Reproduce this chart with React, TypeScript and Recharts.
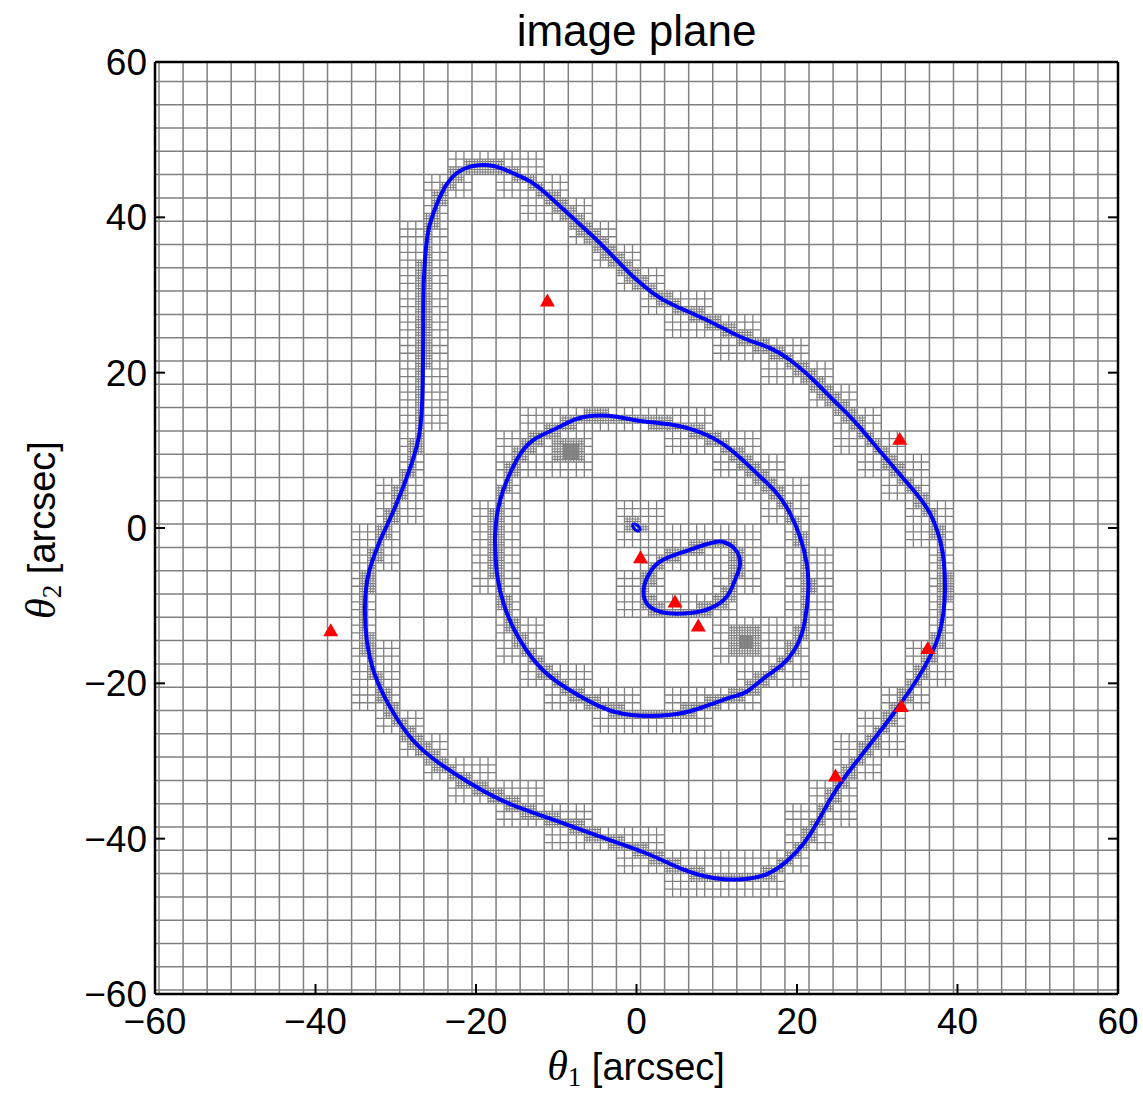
import { ComposedChart, Line, Scatter, XAxis, YAxis } from 'recharts';

const WIDTH = 1143;
const HEIGHT = 1094;
const FONT = '"Liberation Sans", Arial, sans-serif';
const SERIF = '"Liberation Serif", serif';

const axisTicks = [-60, -40, -20, 0, 20, 40, 60];

// critical curves in the image plane, [theta1, theta2] in arcsec
const outerCurve: [number, number][] = [
  [-31.94, -1.55], [-29.88, 3.18], [-28.01, 8.33], [-26.98, 12.62], [-26.64, 18.63],
  [-26.57, 27.2], [-26.48, 32.35], [-26.07, 37.5], [-25.32, 40.52], [-24.07, 43.52],
  [-22.41, 45.67], [-20.34, 46.61], [-17.84, 46.61], [-15.35, 45.67], [-12.86, 44.38],
  [-10.37, 42.23], [-7.88, 39.87], [-5.38, 37.5], [-2.89, 34.93], [-0.4, 32.35],
  [2.09, 30.22], [4.59, 28.71], [8.75, 26.78], [12.9, 24.63], [16.22, 23.34],
  [19.13, 21.63], [22.03, 19.06], [24.52, 16.48], [27.02, 13.9], [29.51, 10.91],
  [32.0, 7.89], [34.49, 4.89], [36.57, 1.89], [37.82, -1.55], [38.32, -4.54],
  [38.44, -7.98], [38.23, -10.98], [37.61, -14.0], [36.57, -16.57], [34.92, -19.57],
  [31.73, -24.3], [28.86, -28.16], [26.0, -32.02], [24.1, -35.02], [21.71, -39.31],
  [19.33, -42.32], [16.46, -44.46], [13.12, -45.23], [9.78, -45.1], [5.97, -44.03],
  [1.21, -41.88], [-4.52, -39.75], [-10.24, -37.6], [-15.96, -35.45], [-20.74, -32.87],
  [-24.55, -30.3], [-27.89, -27.3], [-30.74, -23.0], [-32.66, -18.71], [-33.61, -14.42],
  [-33.84, -10.13], [-33.37, -5.83], [-31.94, -1.55],
];

const middleCurve: [number, number][] = [
  [-17.63, -1.55], [-17.42, 1.45], [-16.6, 4.89], [-14.93, 8.76], [-12.86, 11.33],
  [-9.94, 12.84], [-7.88, 13.9], [-5.38, 14.46], [-2.47, 14.33], [0.44, 13.78],
  [4.59, 13.26], [8.75, 11.97], [12.06, 9.82], [14.98, 7.04], [17.47, 4.47],
  [19.13, 1.89], [20.37, -1.12], [21.21, -4.54], [21.41, -7.98], [21.0, -11.85],
  [20.12, -14.85], [18.33, -17.42], [15.86, -19.35], [13.73, -21.08], [11.7, -21.82],
  [7.88, -23.21], [4.06, -24.08], [-0.7, -24.08], [-4.52, -23.0], [-8.34, -20.86],
  [-11.68, -18.28], [-14.53, -14.42], [-16.44, -10.13], [-17.4, -5.83], [-17.63, -1.55],
];

const innerCurve: [number, number][] = [
  [10.74, -1.76], [12.17, -2.61], [12.9, -4.54], [12.27, -6.7], [11.24, -8.85],
  [9.16, -10.34], [6.67, -10.94], [3.76, -10.94], [1.56, -10.04], [0.87, -8.11],
  [1.56, -5.92], [3.05, -4.25], [5.67, -3.15], [8.41, -2.19], [9.99, -1.76], [10.74, -1.76],
];

// tiny loop at the centre
const centralCurve: [number, number][] = [
  [0.42, -0.37], [0.4, 0.02], [-0.03, 0.45], [-0.42, 0.47], [-0.4, 0.08], [0.03, -0.35], [0.42, -0.37],
];

// lensed image positions
const imageX = [-11.1, 32.8, 0.5, 4.8, 7.7, 36.3, 33.0, 24.8, -38.1];
const imageY = [29.35, 11.55, -3.7, -9.4, -12.5, -15.4, -22.85, -31.8, -13.1];

// spots where the mesh is refined very deeply
const denseSpots: [number, number][] = [[-8.3, 9.9], [13.65, -14.7]];

// base mesh: 3" cells, lines at 0.5 + 3k
const meshOrigin = 0.5;
const meshStep = 3;

type MeshPoint = { x: number; y: number | null };

const toPoints = (c: [number, number][]) => c.map(([x, y]) => ({ x, y }));
const images = imageX.map((x, i) => ({ x, y: imageY[i] }));

// points along the curves, only used to decide where the mesh is split
const trace = (curve: [number, number][], step = 0.1) => {
  const out: [number, number][] = [];
  for (let i = 0; i < curve.length - 1; i++) {
    const [x0, y0] = curve[i];
    const [x1, y1] = curve[i + 1];
    const n = Math.max(1, Math.ceil(Math.hypot(x1 - x0, y1 - y0) / step));
    for (let k = 0; k <= n; k++) out.push([x0 + ((x1 - x0) * k) / n, y0 + ((y1 - y0) * k) / n]);
  }
  return out;
};

const cellsNear = (pts: [number, number][], size: number, margin: number, keys = new Set<string>()) => {
  for (const [x, y] of pts) {
    const i0 = Math.floor((x - margin - meshOrigin) / size);
    const i1 = Math.floor((x + margin - meshOrigin) / size);
    const j0 = Math.floor((y - margin - meshOrigin) / size);
    const j1 = Math.floor((y + margin - meshOrigin) / size);
    for (let i = i0; i <= i1; i++) for (let j = j0; j <= j1; j++) keys.add(`${i},${j}`);
  }
  return keys;
};

const splitLines = (keys: Set<string>, size: number) => {
  const pts: MeshPoint[] = [];
  keys.forEach((key) => {
    const [i, j] = key.split(',').map(Number);
    const x0 = meshOrigin + i * size;
    const y0 = meshOrigin + j * size;
    for (const f of [1 / 3, 2 / 3]) {
      const xs = x0 + f * size;
      const ys = y0 + f * size;
      pts.push({ x: xs, y: y0 }, { x: xs, y: y0 + size }, { x: xs, y: null });
      pts.push({ x: x0, y: ys }, { x: x0 + size, y: ys }, { x: x0 + size, y: null });
    }
  });
  return pts;
};

const baseGrid: MeshPoint[] = [];
for (let k = -20; k <= 19; k++) {
  const v = meshOrigin + k * meshStep;
  baseGrid.push({ x: v, y: -60 }, { x: v, y: 60 }, { x: v, y: null });
  baseGrid.push({ x: -60, y: v }, { x: 60, y: v }, { x: 60, y: null });
}

const curveTrace = [outerCurve, middleCurve, innerCurve, centralCurve].flatMap((c) => trace(c));

const level1 = cellsNear(denseSpots, meshStep, 2.2, cellsNear(curveTrace, meshStep, 0.45));
const level2 = cellsNear(denseSpots, 1, 1.3, cellsNear(curveTrace, 1, 0.12));
const level3 = cellsNear(denseSpots, 1 / 3, 0.8);

const mesh1 = splitLines(level1, meshStep);
const mesh2 = splitLines(level2, 1);
const mesh3 = splitLines(level3, 1 / 3);

const fmt = (v: number) => (v < 0 ? `\u2212${-v}` : `${v}`);
const frameLine = { stroke: '#000', strokeWidth: 2.5 };
const tickMark = { stroke: '#000', strokeWidth: 2 };
const tickText = { fill: '#000', fontSize: 37, fontFamily: FONT };

const ImageMarker = (props: any) => {
  const { cx, cy } = props;
  if (cx == null || cy == null) return null;
  const w = 15;
  const h = 13;
  return (
    <path
      d={`M${cx},${cy - h / 2} L${cx + w / 2},${cy + h / 2} L${cx - w / 2},${cy + h / 2} Z`}
      fill="#ff0000"
    />
  );
};

const MESH = '#808080';
const CURVE = '#0000ff';

export default function App() {
  return (
    <div style={{ position: 'absolute', left: 0, top: 0, width: WIDTH, height: HEIGHT, background: '#fff' }}>
      <ComposedChart width={WIDTH} height={HEIGHT} margin={{ top: 61, right: 24, bottom: 40, left: 0 }}>
        <XAxis
          type="number"
          dataKey="x"
          domain={[-60, 60]}
          allowDataOverflow
          ticks={axisTicks}
          interval={0}
          height={60}
          tickSize={-10}
          tickMargin={24}
          tickFormatter={fmt}
          axisLine={frameLine}
          tickLine={tickMark}
          tick={tickText}
        />
        <XAxis
          xAxisId="top"
          orientation="top"
          type="number"
          domain={[-60, 60]}
          allowDataOverflow
          ticks={axisTicks}
          interval={0}
          height={1}
          tickSize={-10}
          tickFormatter={() => ''}
          axisLine={frameLine}
          tickLine={tickMark}
        />
        <YAxis
          type="number"
          dataKey="y"
          domain={[-60, 60]}
          allowDataOverflow
          ticks={axisTicks}
          interval={0}
          width={155}
          tickSize={-10}
          tickMargin={18}
          tickFormatter={fmt}
          axisLine={frameLine}
          tickLine={tickMark}
          tick={tickText}
        />
        <YAxis
          yAxisId="right"
          orientation="right"
          type="number"
          domain={[-60, 60]}
          allowDataOverflow
          ticks={axisTicks}
          interval={0}
          width={1}
          tickSize={-10}
          tickFormatter={() => ''}
          axisLine={frameLine}
          tickLine={tickMark}
        />
        <Line data={baseGrid} dataKey="y" stroke={MESH} strokeWidth={1.5} dot={false} activeDot={false} isAnimationActive={false} />
        <Line data={mesh1} dataKey="y" stroke={MESH} strokeWidth={1.3} dot={false} activeDot={false} isAnimationActive={false} />
        <Line data={mesh2} dataKey="y" stroke={MESH} strokeWidth={1.1} dot={false} activeDot={false} isAnimationActive={false} />
        <Line data={mesh3} dataKey="y" stroke={MESH} strokeWidth={0.8} dot={false} activeDot={false} isAnimationActive={false} />
        <Line type="natural" data={toPoints(outerCurve)} dataKey="y" stroke={CURVE} strokeWidth={4} dot={false} activeDot={false} isAnimationActive={false} />
        <Line type="natural" data={toPoints(middleCurve)} dataKey="y" stroke={CURVE} strokeWidth={4} dot={false} activeDot={false} isAnimationActive={false} />
        <Line type="natural" data={toPoints(innerCurve)} dataKey="y" stroke={CURVE} strokeWidth={4} dot={false} activeDot={false} isAnimationActive={false} />
        <Line type="natural" data={toPoints(centralCurve)} dataKey="y" stroke={CURVE} strokeWidth={3} dot={false} activeDot={false} isAnimationActive={false} />
        <Scatter data={images} shape={<ImageMarker />} isAnimationActive={false} />
      </ComposedChart>
      <svg
        width={WIDTH}
        height={HEIGHT}
        style={{ position: 'absolute', left: 0, top: 0, pointerEvents: 'none' }}
      >
        <text x={636.5} y={46} textAnchor="middle" fontSize={44} fontFamily={FONT} fill="#000">
          image plane
        </text>
        <text x={636} y={1080} textAnchor="middle" fontSize={38} fontFamily={FONT} fill="#000">
          <tspan fontFamily={SERIF} fontStyle="italic" fontSize={42}>θ</tspan>
          <tspan fontFamily={SERIF} fontSize={27} dy={6}>1</tspan>
          <tspan dy={-6}> [arcsec]</tspan>
        </text>
        <text transform="rotate(-90)" x={-530} y={55} textAnchor="middle" fontSize={38} fontFamily={FONT} fill="#000">
          <tspan fontFamily={SERIF} fontStyle="italic" fontSize={42}>θ</tspan>
          <tspan fontFamily={SERIF} fontSize={27} dy={6}>2</tspan>
          <tspan dy={-6}> [arcsec]</tspan>
        </text>
      </svg>
    </div>
  );
}
